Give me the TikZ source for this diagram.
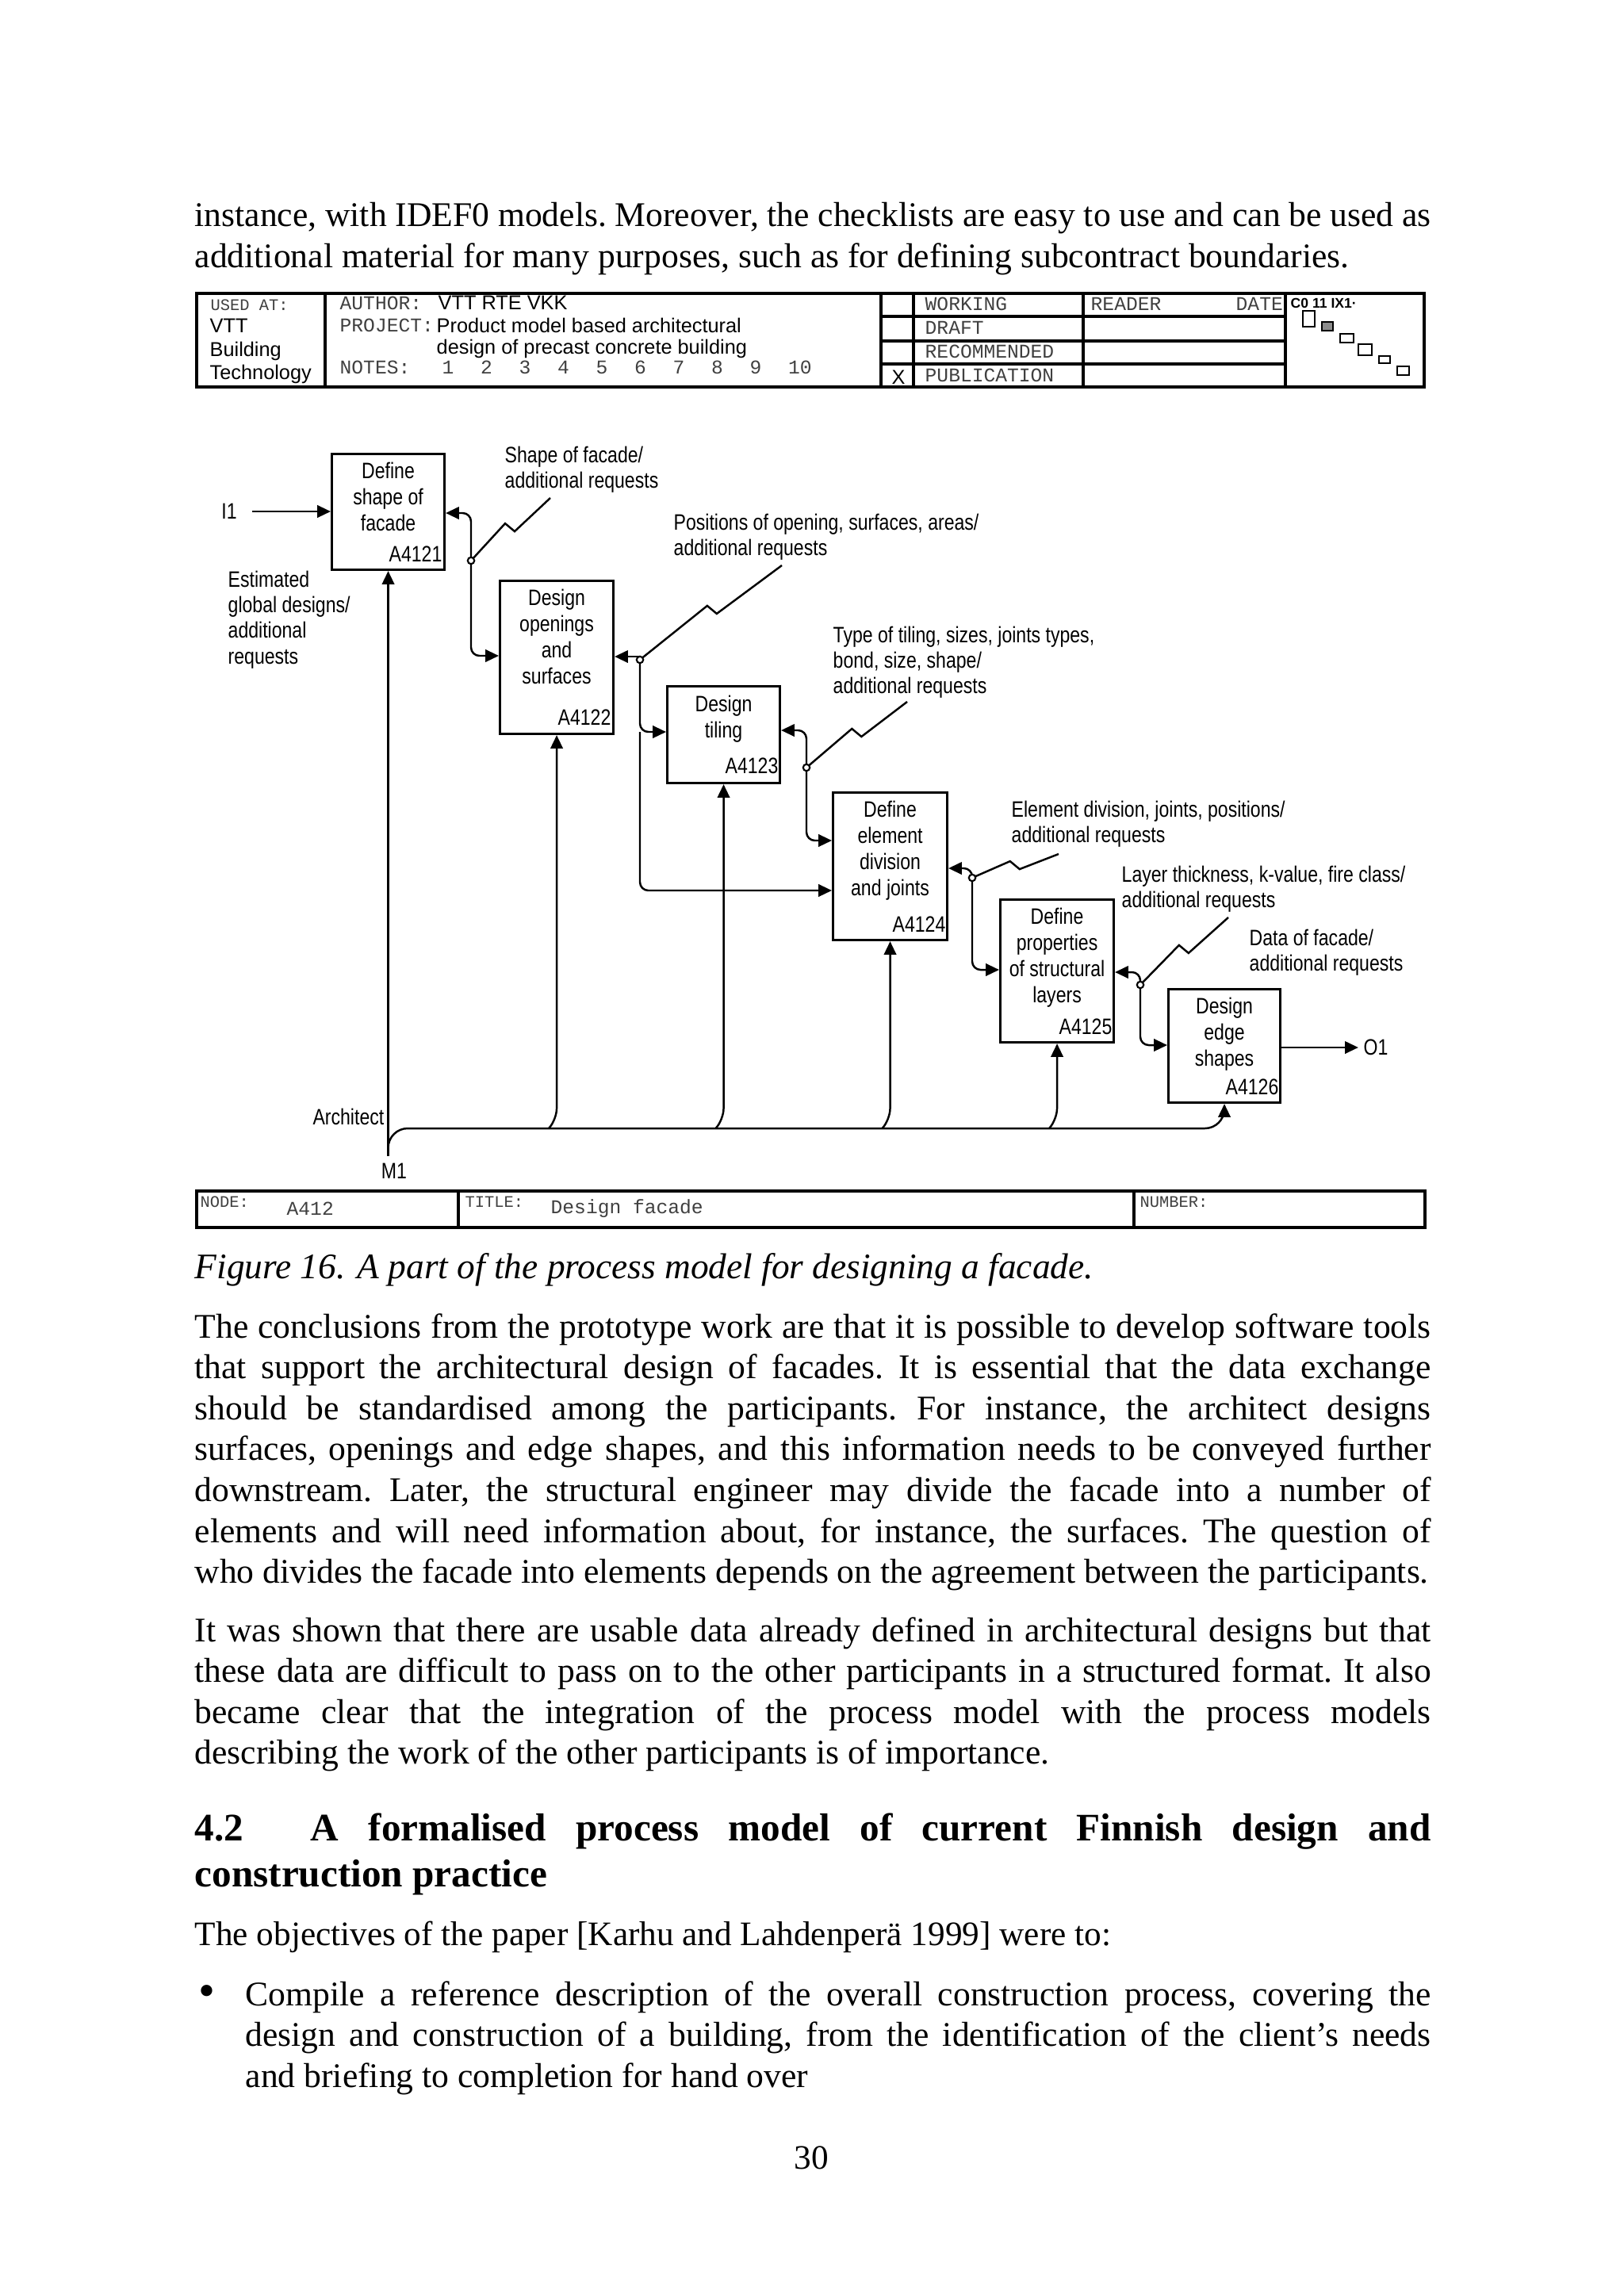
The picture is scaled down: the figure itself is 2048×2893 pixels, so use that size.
\documentclass[tikz,border=0pt]{standalone}
\usepackage{fontspec}
\setmainfont{Liberation Serif}
\newfontfamily\idef[FakeStretch=0.82]{Liberation Sans}
\newfontfamily\hdsans{Liberation Sans}
\newfontfamily\hdmono{Liberation Mono}
\usetikzlibrary{positioning,calc,arrows.meta}

\tikzset{
  box/.style={draw, line width=0.85pt, anchor=north west, inner sep=0pt},
  boxtext/.style={font=\idef\fontsize{8pt}{9.4pt}\selectfont, align=center, inner sep=0pt},
  boxid/.style={font=\idef\fontsize{8pt}{9.4pt}\selectfont, inner sep=0pt},
  lbl/.style={font=\idef\fontsize{8pt}{9.2pt}\selectfont, align=left, inner sep=0pt, anchor=north west},
  tag/.style={font=\idef\fontsize{8pt}{9.4pt}\selectfont, inner sep=0pt},
  flow/.style={line width=0.7pt, -{Triangle[length=4.8pt,width=4.4pt]}, rounded corners=3pt},
  wire/.style={line width=0.7pt},
  joint/.style={circle, draw, line width=0.6pt, inner sep=0pt, minimum size=2.4pt, fill=white},
  mono/.style={font=\hdmono\fontsize{7pt}{8pt}\selectfont, text=black!75, inner sep=0pt, anchor=west},
  minimono/.style={font=\hdmono\fontsize{5.8pt}{7pt}\selectfont, text=black!75, inner sep=0pt, anchor=west},
  hsans/.style={font=\hdsans\fontsize{7.2pt}{8pt}\selectfont, inner sep=0pt, anchor=west},
  body/.style={font=\frenchspacing\fontsize{12.4pt}{14.65pt}\selectfont, text width=15.58cm, align=justify, inner sep=0pt, anchor=north west},
  bodyline/.style={font=\frenchspacing\fontsize{12.3pt}{14.65pt}\selectfont, inner sep=0pt, anchor=base west},
}

% lightning line from a label to its arrow
\newcommand{\squig}[2]{%
  \draw[wire] (#1) -- ($(#1)!0.47!(#2)+(2,5)$) -- ++(-12,-10) -- (#2);}

\begin{document}
\begin{tikzpicture}[x=0.01cm,y=-0.01cm]
        \fill[white] (0,0) rectangle (2048,2893);
        \useasboundingbox (0,0) rectangle (2048,2893);

        %%%%%%%%%% Text above %%%%%%%%%%
        \node[body] (ptop) at (245,255) {instance, with IDEF0 models. Moreover, the checklists are easy to use and can be used as\linebreak additional material for many purposes, such as for defining subcontract boundaries.};

        %%%%%%%%%% Header %%%%%%%%%%
        \draw[line width=0.9pt] (248,370) rectangle (1796,488);
        \draw[line width=0.9pt] (410,370) -- (410,488);
        \foreach \x in {1111,1152,1366,1621}
            \draw[line width=1.2pt] (\x,370) -- (\x,488);
        \foreach \y in {399,430,459}
            \draw[line width=1.4pt] (1111,\y) -- (1621,\y);

        \node[minimono] (usedat) at (265,385) {USED AT:};
        \node[hsans] (vtt) at (264,411) {VTT};
        \node[hsans] (bldg) at (264,443) {Building};
        \node[hsans] (tech) at (264,472) {Technology};
        \node[mono] (author) at (428,382) {AUTHOR:};
        \node[hsans] (authname) at (552,382) {VTT RTE VKK};
        \node[mono] (project) at (428,410) {PROJECT:};
        \node[hsans] (projone) at (550,410) {Product model based architectural};
        \node[hsans] (projtwo) at (550,440) {design of precast concrete building};
        \node[mono] (notes) at (428,463) {NOTES:};
        \foreach \n in {1,...,10}
            \node[mono] (note\n) at ({557+48.5*(\n-1)},463) {\n};

        \node[hsans] (xmark) at (1124,476) {X};
        \node[mono] (working) at (1166,383) {WORKING};
        \node[mono] (draft) at (1166,413) {DRAFT};
        \node[mono] (recomm) at (1166,443) {RECOMMENDED};
        \node[mono] (public) at (1166,473) {PUBLICATION};
        \node[mono] (reader) at (1375,383) {READER};
        \node[mono] (date) at (1558,383) {DATE};

        \node[font=\hdsans\bfseries\fontsize{5pt}{6pt}\selectfont, inner sep=0pt, anchor=west] (logo) at (1627,382) {C0 11 IX1·};
        \draw[line width=0.7pt] (1643,392) rectangle (1658,412);
        \draw[line width=0.7pt, fill=black!45] (1667,406) rectangle (1681,417);
        \draw[line width=0.7pt] (1690,421) rectangle (1707,432);
        \draw[line width=0.7pt] (1713,434) rectangle (1730,448);
        \draw[line width=0.7pt] (1739,449) rectangle (1753,458);
        \draw[line width=0.7pt] (1762,462) rectangle (1777,473);

        %%%%%%%%%% Boxes %%%%%%%%%%
        \node[box, minimum width=1.42cm, minimum height=1.46cm] (a1) at (417,571) {};
        \node[box, minimum width=1.43cm, minimum height=1.93cm] (a2) at (629,731) {};
        \node[box, minimum width=1.42cm, minimum height=1.22cm] (a3) at (840,864) {};
        \node[box, minimum width=1.44cm, minimum height=1.86cm] (a4) at (1049,998) {};
        \node[box, minimum width=1.43cm, minimum height=1.80cm] (a5) at (1260,1133) {};
        \node[box, minimum width=1.41cm, minimum height=1.43cm] (a6) at (1472,1246) {};

        \node[boxtext, below=0.115cm of a1.north] (a1t) {Define\\shape of\\facade};
        \node[boxtext, below=0.115cm of a2.north] (a2t) {Design\\openings\\and\\surfaces};
        \node[boxtext, below=0.125cm of a3.north] (a3t) {Design\\tiling};
        \node[boxtext, below=0.115cm of a4.north] (a4t) {Define\\element\\division\\and joints};
        \node[boxtext, below=0.115cm of a5.north] (a5t) {Define\\properties\\of structural\\layers};
        \node[boxtext, below=0.115cm of a6.north] (a6t) {Design\\edge\\shapes};

        \node[boxid, above left=0.11cm and 0.04cm of a1.south east] (a1id) {A4121};
        \node[boxid, above left=0.12cm and 0.04cm of a2.south east] (a2id) {A4122};
        \node[boxid, above left=0.13cm and 0.03cm of a3.south east] (a3id) {A4123};
        \node[boxid, above left=0.11cm and 0.03cm of a4.south east] (a4id) {A4124};
        \node[boxid, above left=0.11cm and 0.03cm of a5.south east] (a5id) {A4125};
        \node[boxid, above left=0.11cm and 0.03cm of a6.south east] (a6id) {A4126};

        %%%%%%%%%% Labels %%%%%%%%%%
        \node[lbl] (l1) at (636,562) {Shape of facade/\\additional requests};
        \node[lbl] (l2) at (849,647) {Positions of opening, surfaces, areas/\\additional requests};
        \node[lbl] (l3) at (1050,789) {Type of tiling, sizes, joints types,\\bond, size, shape/\\additional requests};
        \node[lbl] (l4) at (1275,1009) {Element division, joints, positions/\\additional requests};
        \node[lbl] (l5) at (1414,1091) {Layer thickness, k-value, fire class/\\additional requests};
        \node[lbl] (l6) at (1575,1171) {Data of facade/\\additional requests};
        \node[lbl] (est) at (287,719) {Estimated\\global designs/\\additional\\requests};

        \node[tag] (i1) at (289,645) {I1};
        \node[tag] (o1) at (1735,1321) {O1};
        \node[tag] (m1) at (497,1477) {M1};
        \node[tag, anchor=east] (arch) at (485,1408) {Architect};

        %%%%%%%%%% Arrows %%%%%%%%%%
        \draw[flow] ([xshift=0.19cm]i1.east) -- (i1.east -| a1.west);
        \draw[flow] (a6.east |- o1) -- ([xshift=-0.06cm]o1.west);

        \coordinate (t1) at (594,647);  \coordinate (c1) at (594,707);  \coordinate (b1) at (594,827);
        \coordinate (t2) at (807,828);  \coordinate (c2) at (807,832);  \coordinate (b2) at (807,923);
        \coordinate (d2) at (807,1123);
        \coordinate (t3) at (1017,921); \coordinate (c3) at (1017,968); \coordinate (b3) at (1017,1060);
        \coordinate (t4) at (1226,1095); \coordinate (c4) at (1226,1107); \coordinate (b4) at (1226,1223);
        \coordinate (t5) at (1438,1226); \coordinate (c5) at (1438,1242); \coordinate (b5) at (1438,1318);

        \coordinate (s1) at (694,628);
        \coordinate (s2) at (986,713);
        \coordinate (s3) at (1144,885);
        \coordinate (s4) at (1335,1077);
        \coordinate (s5) at (1549,1157);

        \draw[flow] (c1) -- (t1) -- (t1 -| a1.east);
        \draw[flow] (c1) -- (b1) -- (b1 -| a2.west);
        \draw[flow] (t2 -| c2) -- (t2 -| a2.east);
        \draw[flow] (t2) -- (b2) -- (b2 -| a3.west);
        \draw[flow] (b2) -- (d2) -- (d2 -| a4.west);
        \draw[flow] (c3) -- (t3) -- (t3 -| a3.east);
        \draw[flow] (c3) -- (b3) -- (b3 -| a4.west);
        \draw[flow] (c4) -- (t4) -- (t4 -| a4.east);
        \draw[flow] (c4) -- (b4) -- (b4 -| a5.west);
        \draw[flow] (c5) -- (t5) -- (t5 -| a5.east);
        \draw[flow] (c5) -- (b5) -- (b5 -| a6.west);

        \squig{s1}{c1}
        \squig{s2}{c2}
        \squig{s3}{c3}
        \squig{s4}{c4}
        \squig{s5}{c5}

        \foreach \c in {c1,c2,c3,c4,c5}
            \node[joint] (j\c) at (\c) {};

        %%%%%%%%%% Mechanism %%%%%%%%%%
        \draw[flow] (a1.south |- 0,1458) -- (a1.south);
        \draw[flow, rounded corners=7pt] (a1.south |- 0,1445) -- (a1.south |- 0,1423) -- (a6.south |- 0,1423) -- (a6.south);
        \foreach \b in {a2,a3,a4,a5}
            \draw[flow, rounded corners=4pt] ([xshift=-0.1cm]\b.south |- 0,1423) -- (\b.south |- 0,1412) -- (\b.south);

        %%%%%%%%%% Footer %%%%%%%%%%
        \draw[line width=1.1pt] (248,1502) rectangle (1797,1548);
        \draw[line width=1.1pt] (578,1502) -- (578,1548);
        \draw[line width=1.1pt] (1430,1502) -- (1430,1548);
        \node[minimono] (fnode) at (252,1516) {NODE:};
        \node[mono] (fa412) at (361,1524) {A412};
        \node[minimono] (ftitle) at (586,1516) {TITLE:};
        \node[mono] (fdesign) at (694,1524) {Design facade};
        \node[minimono] (fnumber) at (1437,1516) {NUMBER:};

        %%%%%%%%%% Text below %%%%%%%%%%
        \node[bodyline, font=\itshape\fontsize{12.9pt}{14.65pt}\selectfont] (caption) at (245,1612) {Figure 16. A part of the process model for designing a facade.};

        \node[body] (pone) at (245,1656) {The conclusions from the prototype work are that it is possible to develop software tools\linebreak that support the architectural design of facades. It is essential that the data exchange\linebreak should be standardised among the participants. For instance, the architect designs\linebreak surfaces, openings and edge shapes, and this information needs to be conveyed further\linebreak downstream. Later, the structural engineer may divide the facade into a number of\linebreak elements and will need information about, for instance, the surfaces. The question of\linebreak who divides the facade into elements depends on the agreement between the participants.};

        \node[body] (ptwo) at (245,2039) {It was shown that there are usable data already defined in architectural designs but that\linebreak these data are difficult to pass on to the other participants in a structured format. It also\linebreak became clear that the integration of the process model with the process models\linebreak describing the work of the other participants is of importance.};

        \node[body, font=\bfseries\fontsize{14pt}{16.5pt}\selectfont] (head) at (245,2286) {4.2\hspace{0.5em plus 0.3em}A formalised process model of current Finnish design and\linebreak construction practice};

        \node[bodyline] (objectives) at (245,2453) {The objectives of the paper [Karhu and Lahdenperä 1999] were to:};

        \node[bodyline, font=\fontsize{17pt}{17pt}\selectfont] (bullet) at (250,2530) {•};
        \node[body, text width=14.94cm] (bone) at (309,2498) {Compile a reference description of the overall construction process, covering the\linebreak design and construction of a building, from the identification of the client’s needs\linebreak and briefing to completion for hand over};

        \node[bodyline, anchor=base] (pagenum) at (1023,2735) {30};
\end{tikzpicture}
\end{document}
